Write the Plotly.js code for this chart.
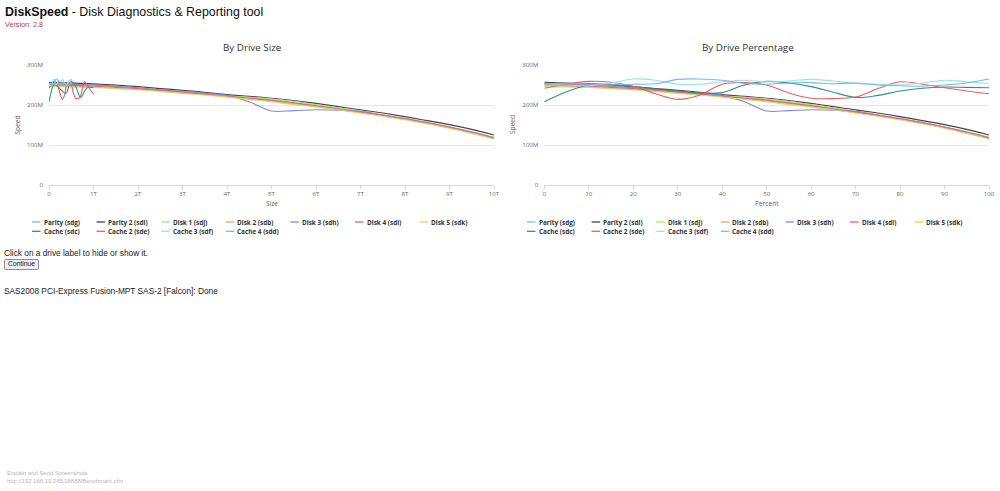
<!DOCTYPE html>
<html>
<head>
<meta charset="utf-8">
<script src="https://cdn.plot.ly/plotly-3.0.1.min.js"></script>
<style>
  html, body { margin: 0; padding: 0; background: #ffffff; width: 1000px; height: 491px; overflow: hidden; }
  body { font-family: "Liberation Sans", Arial, sans-serif; color: #111; position: relative; }
  .abs { position: absolute; white-space: nowrap; line-height: 1; }
  #hdr { left: 5px; top: 5.6px; font-size: 12.4px; color: #111; }
  #ver { left: 5px; top: 20.5px; font-size: 7.2px; color: #c0392b; }
  #note { left: 4px; top: 249px; font-size: 8.3px; color: #222; }
  #cont { position: absolute; left: 4px; top: 259px; width: 35px; height: 10.5px; padding: 0; margin: 0;
          font: 6.7px "Liberation Sans", Arial, sans-serif; color: #111; background: #efefef;
          border: 1px solid #8f8f8f; border-radius: 2px; line-height: 1; box-sizing: border-box; }
  #ctl { left: 4px; top: 287.2px; font-size: 8.3px; color: #222; }
  .foot { left: 7px; font-size: 5.9px; color: #b8b8b8; }
  #chart { position: absolute; left: 0; top: 30px; width: 1000px; height: 220px; }
</style>
</head>
<body>
<div id="hdr" class="abs"><b>DiskSpeed</b> - Disk Diagnostics &amp; Reporting tool</div>
<div id="ver" class="abs">Version: 2.8</div>
<div id="chart"></div>
<div id="note" class="abs">Click on a drive label to hide or show it.</div>
<button id="cont">Continue</button>
<div id="ctl" class="abs">SAS2008 PCI-Express Fusion-MPT SAS-2 [Falcon]: Done</div>
<div class="abs foot" style="top:471.2px">Explain and Send Screenshots</div>
<div class="abs foot" style="top:478.6px">http://192.168.19.245:18888/Benchmark.cfm</div>

<script>
// ---------------- DATA ----------------
const chartTitles = ["By Drive Size", "By Drive Percentage"];
const driveNames = ["Parity (sdg)", "Parity 2 (sdl)", "Disk 1 (sdj)", "Disk 2 (sdb)", "Disk 3 (sdh)",
                    "Disk 4 (sdi)", "Disk 5 (sdk)", "Cache (sdc)", "Cache 2 (sde)", "Cache 3 (sdf)", "Cache 4 (sdd)"];
const driveColors = ["#7cb5ec", "#434348", "#90ed7d", "#f7a35c", "#8085e9",
                     "#f15c80", "#e4d354", "#2b908f", "#f45b5b", "#91e8e1", "#7cb5ec"];
const driveCapacityTB = [10, 10, 10, 10, 10, 10, 10, 1, 1, 0.5, 0.5];

// sample positions (percent of drive)
const percentPoints = [0, 5, 10, 15, 20, 25, 30, 35, 40, 45, 50, 55, 60, 65, 70, 75, 80, 85, 90, 95, 100];

// speeds in MB/s
const speedParity  = [255, 253, 251, 248, 243, 239, 234, 229, 224, 219, 213, 206, 199, 191, 183, 175, 166, 156, 145, 133, 119];
const speedParity2 = [257, 255, 253, 250, 246, 241, 237, 232, 226, 222, 217, 211, 204, 196, 188, 180, 171, 161, 151, 139, 125];
const speedDisk1   = [252, 251, 249, 246, 243, 238, 233, 228, 223, 219, 215, 209, 201, 193, 184, 175, 166, 155, 144, 131, 117];
const speedDisk2   = [248, 247, 245, 242, 239, 235, 230, 226, 221, 216, 210, 203, 196, 189, 181, 173, 164, 154, 143, 130, 116];
const speedDisk3   = [253, 252, 250, 247, 243, 238, 233, 229, 224, 208, 185, 186, 188, 187, 184, 175, 166, 156, 145, 132, 118];
const speedDisk4   = [250, 249, 247, 244, 241, 236, 232, 227, 222, 217, 212, 205, 198, 190, 182, 174, 165, 155, 144, 131, 117];
const speedDisk5   = [246, 245, 244, 241, 238, 234, 229, 225, 220, 214, 208, 201, 195, 188, 180, 172, 163, 153, 142, 129, 115];
const speedCache   = [208, 233, 250, 252, 246, 240, 235, 230, 231, 250, 259, 255, 246, 232, 219, 224, 235, 242, 245, 244, 243];
const speedCache2  = [242, 252, 259, 257, 247, 228, 214, 225, 252, 256, 250, 230, 217, 216, 220, 241, 258, 252, 243, 235, 228];
const speedCache3  = [250, 250, 248, 255, 265, 262, 252, 252, 258, 262, 258, 260, 264, 260, 254, 252, 250, 255, 262, 258, 253];
const speedCache4  = [252, 255, 252, 250, 252, 253, 264, 265, 262, 254, 252, 255, 256, 253, 255, 250, 248, 247, 250, 255, 265];
const driveSpeeds = [speedParity, speedParity2, speedDisk1, speedDisk2, speedDisk3, speedDisk4, speedDisk5,
                     speedCache, speedCache2, speedCache3, speedCache4];

// axis ticks
const sizeTicks = [0, 1, 2, 3, 4, 5, 6, 7, 8, 9, 10];
const sizeTickLabels = ["0", "1T", "2T", "3T", "4T", "5T", "6T", "7T", "8T", "9T", "10T"];
const percentTicks = [0, 10, 20, 30, 40, 50, 60, 70, 80, 90, 100];
const speedTicks = [0, 100, 200, 300];
const speedTickLabels = ["0", "100M", "200M", "300M"];
const axisTitles = { size: "Size", percent: "Percent", speed: "Speed" };

// ---------------- LAYOUT HELPERS ----------------
const FIG_TOP = 30, FIG_H = 220, FIG_W = 1000;
const px = x => x / FIG_W;
const py = y => 1 - (y - FIG_TOP) / FIG_H;
const FONT = '"Open Sans", "Liberation Sans", Arial, sans-serif';

const traces = [];
driveNames.forEach((name, i) => {
  traces.push({
    type: 'scatter', mode: 'lines', name: name, showlegend: false,
    x: percentPoints.map(p => p / 100 * driveCapacityTB[i]),
    y: driveSpeeds[i], xaxis: 'x', yaxis: 'y',
    line: { color: driveColors[i], width: 1.1, shape: 'spline', smoothing: 1 },
    hovertemplate: name + '<br>%{x:.2f}T: %{y}M<extra></extra>'
  });
});
driveNames.forEach((name, i) => {
  traces.push({
    type: 'scatter', mode: 'lines', name: name, showlegend: false,
    x: percentPoints, y: driveSpeeds[i], xaxis: 'x2', yaxis: 'y2',
    line: { color: driveColors[i], width: 1.1, shape: 'spline', smoothing: 1 },
    hovertemplate: name + '<br>%{x}%: %{y}M<extra></extra>'
  });
});

const tickFont = { family: FONT, size: 6.1, color: '#666666' };
function xAxis(domain, range, tickvals, ticktext) {
  return {
    domain: domain, range: range, tickvals: tickvals, ticktext: ticktext, color: '#666666',
    showgrid: false, zeroline: false, showline: true, linecolor: '#ccd6eb', linewidth: 1,
    ticks: 'outside', ticklen: 3, tickcolor: '#ccd6eb', tickwidth: 1,
    tickfont: tickFont, fixedrange: true
  };
}
function yAxis(domain, anchor) {
  return {
    domain: domain, range: [0, 300], tickvals: speedTicks, ticktext: speedTickLabels, color: '#666666',
    showgrid: true, gridcolor: '#e6e6e6', gridwidth: 1, zeroline: false, showline: false,
    ticks: '', ticklabelstandoff: 5, tickfont: tickFont, anchor: anchor, fixedrange: true
  };
}

const yDom = [py(185), py(65)];
const layout = {
  width: FIG_W, height: FIG_H,
  margin: { l: 0, r: 0, t: 0, b: 0, pad: 0 },
  paper_bgcolor: 'rgba(0,0,0,0)', plot_bgcolor: 'rgba(0,0,0,0)',
  font: { family: FONT, color: '#333333' },
  showlegend: false, hovermode: 'closest',
  xaxis: xAxis([px(49), px(494)], [0, 10], sizeTicks, sizeTickLabels),
  yaxis: yAxis(yDom, 'x'),
  xaxis2: xAxis([px(544.3), px(989)], [0, 100], percentTicks, percentTicks.map(String)),
  yaxis2: yAxis(yDom, 'x2'),
  annotations: [], shapes: []
};
layout.xaxis.anchor = 'y';
layout.xaxis2.anchor = 'y2';

const titleFont = { family: FONT, size: 9.8, color: '#333333' };
const axTitleFont = { family: FONT, size: 6.6, color: '#666666' };
function addText(text, x, y, font, extra) {
  layout.annotations.push(Object.assign({
    text: text, xref: 'paper', yref: 'paper', x: px(x), y: py(y),
    xanchor: 'center', yanchor: 'middle', showarrow: false, font: font, borderpad: 0
  }, extra || {}));
}
addText(chartTitles[0], 252, 47, titleFont);
addText(chartTitles[1], 748, 47, titleFont);
addText(axisTitles.size, 271.5, 203, axTitleFont);
addText(axisTitles.percent, 766.5, 203, axTitleFont);
addText(axisTitles.speed, 16.5, 125, axTitleFont, { textangle: -90 });
addText(axisTitles.speed, 512, 125, axTitleFont, { textangle: -90 });

// custom Highcharts-style legends
const legendFont = { family: FONT, size: 6.4, color: '#333333', weight: 'bold' };
const legendStarts = [32, 527];
const legendLookup = [];
legendStarts.forEach((x0, chartIdx) => {
  driveNames.forEach((name, i) => {
    const col = i < 7 ? i : i - 7;
    const row = i < 7 ? 0 : 1;
    const lx = x0 + col * 64.6;
    const ly = 222 + row * 9.3;
    layout.shapes.push({
      type: 'line', xref: 'paper', yref: 'paper',
      x0: px(lx), x1: px(lx + 8.5), y0: py(ly), y1: py(ly),
      line: { color: driveColors[i], width: 1.3 }
    });
    legendLookup[layout.annotations.length] = i;
    addText('<b>' + name + '</b>', lx + 10.5, ly, legendFont, { xanchor: 'left', captureevents: true });
  });
});

const chartDiv = document.getElementById('chart');
Plotly.newPlot(chartDiv, traces, layout, { displayModeBar: false, responsive: false }).then(() => {
  const hidden = driveNames.map(() => false);
  chartDiv.on('plotly_clickannotation', ev => {
    const i = legendLookup[ev.index];
    if (i === undefined) return;
    hidden[i] = !hidden[i];
    Plotly.restyle(chartDiv, { visible: hidden[i] ? false : true }, [i, i + driveNames.length]);
    const upd = {};
    legendLookup.forEach((d, annIdx) => {
      if (d === i) upd['annotations[' + annIdx + '].font.color'] = hidden[i] ? '#cccccc' : '#333333';
    });
    Plotly.relayout(chartDiv, upd);
  });
});
</script>
</body>
</html>
